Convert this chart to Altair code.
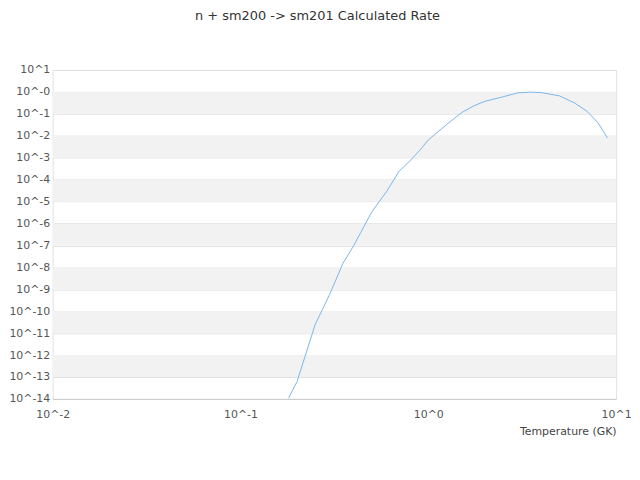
# %%
import pandas as pd
import altair as alt

# %%
# rate curve (T in GK, log10 of the rate)
temps = [0.18, 0.2, 0.25, 0.3, 0.35, 0.4, 0.5, 0.6, 0.7, 0.8, 0.9, 1.0,
         1.25, 1.5, 1.75, 2.0, 2.5, 3.0, 3.5, 4.0, 5.0, 6.0, 7.0, 8.0, 9.0]
log_rates = [-13.97, -13.21, -10.6, -9.19, -7.84, -7.02, -5.47, -4.54, -3.61,
             -3.14, -2.66, -2.19, -1.49, -0.95, -0.63, -0.43, -0.22, -0.04,
             -0.01, -0.03, -0.18, -0.50, -0.88, -1.40, -2.10]

x_ticks = [0.01, 0.1, 1, 10]
y_ticks = [10.0 ** -k for k in range(-1, 15)]

# alternating shaded bands between decades
band_top = [10.0 ** -k for k in range(0, 14, 2)]
band_bottom = [10.0 ** -(k + 1) for k in range(0, 14, 2)]

dat = pd.DataFrame({'T': temps, 'rate': [10 ** v for v in log_rates]})
bands = pd.DataFrame({'top': band_top, 'bottom': band_bottom})

font = 'DejaVu Sans'
xscale = alt.Scale(type='log', domain=[0.01, 10])
yscale = alt.Scale(type='log', domain=[1e-14, 10])

# %%
shade = (alt.Chart(bands)
    .mark_rect(color='#f2f2f2')
    .encode(
        x=alt.value(0),
        x2=alt.value('width'),
        y=alt.Y('top:Q', scale=yscale),
        y2='bottom:Q'))

line = (alt.Chart(dat)
    .mark_line(color='#7cb5ec', strokeWidth=1, clip=True)
    .encode(
        x=alt.X('T:Q', scale=xscale,
                axis=alt.Axis(values=x_ticks, grid=False, ticks=False, labelFlush=False,
                              labelExpr="'10^' + round(log(datum.value)/LN10)",
                              labelPadding=10, labelFontSize=11, labelColor='#555',
                              domainColor='#ccc', title='Temperature (GK)',
                              titleAnchor='end', titleFontWeight='normal',
                              titleFontSize=11, titleColor='#444', titlePadding=6)),
        y=alt.Y('rate:Q', scale=yscale,
                axis=alt.Axis(values=y_ticks, grid=True, gridColor='#e2e2e2',
                              ticks=False, domain=False, title=None,
                              labelExpr="'10^' + (datum.value > 1 ? '1' : '-' + round(-log(datum.value)/LN10))",
                              labelPadding=3, labelFontSize=11, labelColor='#555'))))

chart = (alt.layer(shade, line)
    .properties(width=567, height=331,
                title=alt.TitleParams('n + sm200 -> sm201 Calculated Rate',
                                      fontSize=13, fontWeight='normal', color='#333',
                                      font=font, dx=-17, offset=41),
                autosize=alt.AutoSizeParams(type='none'),
                padding={'left': 45, 'top': 61, 'right': 16, 'bottom': 50})
    .configure(font=font)
    .configure_axis(labelFont=font, titleFont=font)
    .configure_view(stroke='#e2e2e2'))

chart.save("out.html", embed_options={"renderer": "svg", "actions": False})
